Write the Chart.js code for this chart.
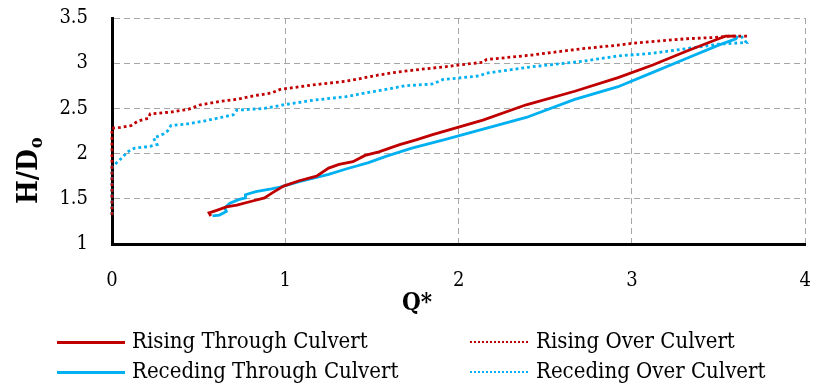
<!DOCTYPE html>
<html>
<head>
<meta charset="utf-8">
<script src="https://cdn.jsdelivr.net/npm/chart.js@4.4.1/dist/chart.umd.min.js"></script>
<style>
  body { margin: 0; background: #fff; }
  #wrap { position: relative; width: 814px; height: 389px; }
  .leg { position: absolute; font-family: "DejaVu Serif Condensed", "DejaVu Serif", serif; font-size: 22px; color: #000; white-space: nowrap; line-height: 26px; }
  .sample { position: absolute; height: 3px; }
</style>
</head>
<body>
<div id="wrap">
  <canvas id="lineChart" width="814" height="389"></canvas>
  <div id="legend"></div>
</div>
<script>
// series (Q*, H/Do)
var risingThroughQ = [0.57, 0.56, 0.60, 0.66, 0.72, 0.80, 0.88, 0.92, 0.99, 1.08, 1.18, 1.25, 1.31, 1.39, 1.46, 1.54, 1.66, 1.75, 1.85, 1.94, 2.14, 2.39, 2.67, 2.92, 3.12, 3.31, 3.50, 3.54, 3.60];
var risingThroughH = [1.31, 1.345, 1.37, 1.41, 1.43, 1.47, 1.51, 1.56, 1.64, 1.70, 1.75, 1.84, 1.88, 1.91, 1.98, 2.02, 2.10, 2.15, 2.21, 2.26, 2.37, 2.54, 2.69, 2.84, 2.98, 3.13, 3.27, 3.30, 3.30];

var recedingThroughQ = [3.61, 3.60, 3.50, 3.31, 3.11, 2.92, 2.67, 2.39, 2.12, 1.93, 1.73, 1.58, 1.48, 1.35, 1.25, 1.08, 0.97, 0.92, 0.83, 0.77, 0.77, 0.73, 0.68, 0.65, 0.66, 0.62, 0.58];
var recedingThroughH = [3.30, 3.27, 3.20, 3.05, 2.89, 2.74, 2.60, 2.40, 2.26, 2.16, 2.06, 1.97, 1.90, 1.83, 1.77, 1.69, 1.63, 1.61, 1.58, 1.545, 1.51, 1.49, 1.45, 1.40, 1.36, 1.32, 1.31];

var risingOverQ = [0, 0, 0.05, 0.11, 0.15, 0.21, 0.22, 0.34, 0.44, 0.51, 0.63, 0.72, 0.82, 0.92, 0.97, 1.16, 1.35, 1.54, 1.64, 1.77, 1.92, 2.00, 2.14, 2.16, 2.42, 2.71, 2.92, 3.00, 3.31, 3.48, 3.56, 3.67];
var risingOverH = [1.32, 2.28, 2.29, 2.31, 2.36, 2.39, 2.44, 2.46, 2.49, 2.54, 2.58, 2.60, 2.64, 2.67, 2.71, 2.76, 2.80, 2.87, 2.90, 2.93, 2.96, 2.98, 3.01, 3.04, 3.09, 3.16, 3.20, 3.22, 3.27, 3.285, 3.30, 3.30];

var recedingOverQ = [3.63, 3.66, 3.50, 3.31, 3.12, 2.92, 2.71, 2.42, 2.16, 2.12, 2.02, 1.91, 1.85, 1.69, 1.58, 1.46, 1.35, 1.16, 0.99, 0.88, 0.72, 0.70, 0.63, 0.53, 0.44, 0.34, 0.32, 0.30, 0.24, 0.26, 0.22, 0.13, 0.09, 0.05, 0.01, 0, 0];
var recedingOverH = [3.30, 3.23, 3.21, 3.16, 3.11, 3.08, 3.02, 2.96, 2.89, 2.86, 2.84, 2.82, 2.77, 2.75, 2.71, 2.67, 2.63, 2.59, 2.54, 2.50, 2.48, 2.43, 2.40, 2.36, 2.33, 2.31, 2.25, 2.22, 2.17, 2.10, 2.08, 2.06, 2.02, 1.94, 1.87, 1.85, 1.30];

var xTicks = [0, 1, 2, 3, 4];
var yTicks = [1, 1.5, 2, 2.5, 3, 3.5];
var seriesNames = ['Rising Through Culvert', 'Rising Over Culvert', 'Receding Through Culvert', 'Receding Over Culvert'];

var RED = '#C00000';
var BLUE = '#00B0F0';
var SERIF = '"DejaVu Serif Condensed", "DejaVu Serif", serif';

function pts(qs, hs) {
    return qs.map(function(q, i) { return {x: q, y: hs[i]}; });
}

function series(label, qs, hs, color, dotted) {
    return {
        label: label,
        data: pts(qs, hs),
        showLine: true,
        borderColor: color,
        backgroundColor: color,
        borderWidth: 2.8,
        borderDash: dotted ? [2.8, 3] : [],
        borderCapStyle: 'butt',
        pointRadius: 0,
        tension: 0,
        clip: 6
    };
}

// axis titles drawn by hand (H/Do needs a subscript)
var axisTitles = {
    id: 'axisTitles',
    afterDraw: function(chart) {
        var ctx = chart.ctx;
        ctx.save();
        ctx.fillStyle = '#000';
        ctx.textBaseline = 'alphabetic';
        // x title
        ctx.font = 'bold 24px ' + SERIF;
        ctx.textAlign = 'center';
        ctx.fillText('Q*', 417, 310);
        // y title, rotated
        ctx.translate(37, 204);
        ctx.rotate(-Math.PI / 2);
        ctx.textAlign = 'left';
        ctx.font = 'bold 28px ' + SERIF;
        ctx.fillText('H/D', 0, 0);
        var w = ctx.measureText('H/D').width;
        ctx.font = 'bold 18px ' + SERIF;
        ctx.fillText('o', w + 1, 5);
        ctx.restore();
    }
};

var tickFont = { family: SERIF, size: 20 };

new Chart(document.getElementById('lineChart'), {
    type: 'scatter',
    data: {
        datasets: [
            series(seriesNames[0], risingThroughQ, risingThroughH, RED, false),
            series(seriesNames[1], risingOverQ, risingOverH, RED, true),
            series(seriesNames[2], recedingThroughQ, recedingThroughH, BLUE, false),
            series(seriesNames[3], recedingOverQ, recedingOverH, BLUE, true)
        ]
    },
    options: {
        responsive: false,
        animation: false,
        layout: { padding: { left: 50, right: 8, top: 18, bottom: 85 } },
        plugins: { legend: { display: false }, tooltip: { enabled: false } },
        scales: {
            x: {
                type: 'linear', min: 0, max: 4,
                afterBuildTicks: function(s) { s.ticks = xTicks.map(function(v) { return {value: v}; }); },
                afterFit: function(s) { s.height = 60; },
                ticks: { font: tickFont, color: '#000', padding: 3, callback: function(v) { return String(v); } },
                grid: { color: '#a6a6a6', lineWidth: 1, drawTicks: true, tickLength: 22, tickColor: 'rgba(0,0,0,0)' },
                border: { display: true, color: '#000', width: 3, dash: [6, 4] }
            },
            y: {
                type: 'linear', min: 1, max: 3.5,
                afterBuildTicks: function(s) { s.ticks = yTicks.map(function(v) { return {value: v}; }); },
                afterFit: function(s) { s.width = 62; },
                ticks: { font: tickFont, color: '#000', padding: 3, callback: function(v) { return String(v); } },
                grid: { color: '#a6a6a6', lineWidth: 1, drawTicks: true, tickLength: 21, tickColor: 'rgba(0,0,0,0)' },
                border: { display: true, color: '#000', width: 3, dash: [6, 4] }
            }
        }
    },
    plugins: [axisTitles]
});

// legend, two columns like the reference
var legendSpots = [
    { x: 57, w: 68, text: 132, y: 342 },
    { x: 470, w: 60, text: 536, y: 342 },
    { x: 57, w: 68, text: 132, y: 372 },
    { x: 470, w: 60, text: 536, y: 372 }
];
var legendColors = [RED, RED, BLUE, BLUE];
var legendDotted = [false, true, false, true];
var legend = document.getElementById('legend');
seriesNames.forEach(function(name, i) {
    var s = legendSpots[i];
    var line = document.createElement('div');
    line.className = 'sample';
    line.style.left = s.x + 'px';
    line.style.width = s.w + 'px';
    if (legendDotted[i]) {
        line.style.top = (s.y - 1) + 'px';
        line.style.height = '2px';
        line.style.background = 'repeating-linear-gradient(90deg,' + legendColors[i] + ' 0 2px, transparent 2px 4px)';
    } else {
        line.style.top = (s.y - 1.5) + 'px';
        line.style.background = legendColors[i];
    }
    legend.appendChild(line);
    var t = document.createElement('div');
    t.className = 'leg';
    t.style.left = s.text + 'px';
    t.style.top = (s.y - 14) + 'px';
    t.textContent = name;
    legend.appendChild(t);
});
</script>
</body>
</html>
